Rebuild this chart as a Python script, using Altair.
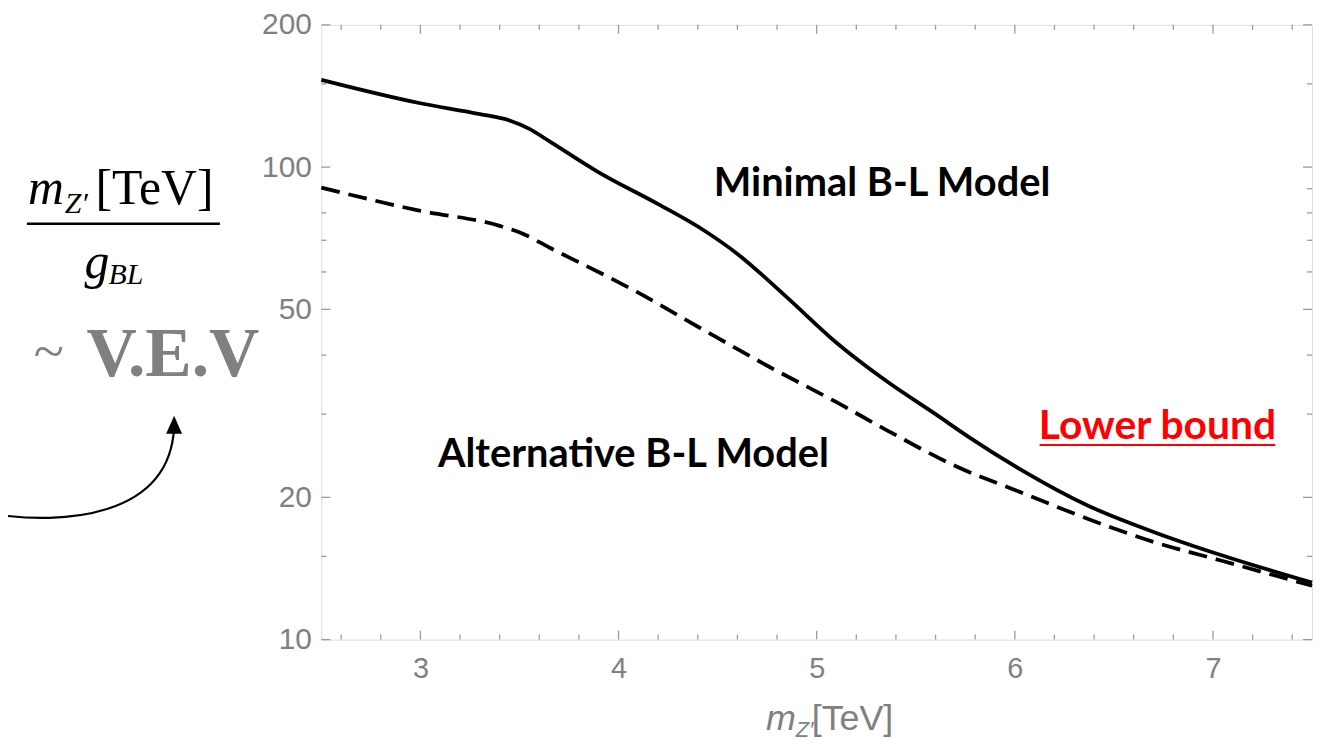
import altair as alt
import pandas as pd

# ---- data ----
x_minimal = [2.5, 3.0, 3.3, 3.45, 3.55, 3.65, 3.9, 4.2, 4.43, 4.6, 4.85, 5.1, 5.35, 5.6, 5.77,
             6.03, 6.37, 6.7, 7.04, 7.5]
y_minimal = [153, 136.5, 129.5, 125.5, 120.5, 113.5, 97.5, 83.5, 73.5, 65.5, 53, 42.5, 35.3, 30.0, 26.8,
             22.9, 19.2, 16.9, 15.1, 13.2]

x_alternative = [2.5, 3.0, 3.4, 3.52, 3.65, 3.95, 4.09, 4.43, 4.76, 5.1, 5.35, 5.7, 6.03, 6.37,
                 6.7, 7.04, 7.5]
y_alternative = [90.5, 80.8, 75.1, 72.2, 67.6, 58.5, 54.5, 45.2, 37.8, 31.8, 27.8, 23.3, 20.5,
                 18.0, 16.1, 14.7, 13.0]

x_major = [3, 4, 5, 6, 7]
x_minor = [2.6, 2.8, 3.2, 3.4, 3.6, 3.8, 4.2, 4.4, 4.6, 4.8, 5.2, 5.4, 5.6, 5.8,
           6.2, 6.4, 6.6, 6.8, 7.2, 7.4]
y_major = [10, 20, 50, 100, 200]
y_minor = [15, 30, 40, 60, 70, 80, 90, 150]

ann_text = ["Minimal B-L Model", "Alternative B-L Model", "Lower bound"]
ann_x = [5.33, 4.075, 6.72]
ann_y = [92.1, 24.6, 28.2]
ann_color = ["black", "black", "#ff0000"]
ann_size = [40, 40, 41]

underline_x = [6.125]
underline_x2 = [7.315]
underline_y = [25.8]

W, H = 996, 618
FRAME = "#9a9a9a"
LABEL = "#808080"

xscale = alt.Scale(domain=[2.5, 7.5], nice=False, zero=False)
yscale = alt.Scale(type="log", domain=[10, 200], nice=False)
xaxis = alt.Axis(values=x_major, title=None, ticks=False, domain=False, grid=False,
                 labelFontSize=29, labelColor=LABEL, labelFont="Liberation Sans",
                 labelPadding=15)
yaxis = alt.Axis(values=y_major, title=None, ticks=False, domain=False, grid=False,
                 format="d", labelFontSize=30, labelColor=LABEL, labelFont="Liberation Sans",
                 labelPadding=10)


def X(field):
    return alt.X(field, type="quantitative", scale=xscale, axis=xaxis)


def Y(field):
    return alt.Y(field, type="quantitative", scale=yscale, axis=yaxis)


minimal = alt.Chart(pd.DataFrame({"x": x_minimal, "y": y_minimal})).mark_line(
    color="black", strokeWidth=3.8, interpolate="monotone"
).encode(x=X("x"), y=Y("y"))

alternative = alt.Chart(pd.DataFrame({"x": x_alternative, "y": y_alternative})).mark_line(
    color="black", strokeWidth=3.8, interpolate="monotone", strokeDash=[19, 9]
).encode(x=X("x"), y=Y("y"))

# inward frame ticks
xmaj = pd.DataFrame({"x": x_major})
xmin = pd.DataFrame({"x": x_minor})
ymaj = pd.DataFrame({"y": y_major})
ymin = pd.DataFrame({"y": y_minor})
tick_style = dict(color=FRAME, strokeWidth=1.3)
ticks = [
    alt.Chart(xmaj).mark_rule(**tick_style).encode(x=X("x"), y=alt.value(H), y2=alt.value(H - 9)),
    alt.Chart(xmin).mark_rule(**tick_style).encode(x=X("x"), y=alt.value(H), y2=alt.value(H - 5)),
    alt.Chart(xmaj).mark_rule(**tick_style).encode(x=X("x"), y=alt.value(0), y2=alt.value(9)),
    alt.Chart(xmin).mark_rule(**tick_style).encode(x=X("x"), y=alt.value(0), y2=alt.value(5)),
    alt.Chart(ymaj).mark_rule(**tick_style).encode(y=Y("y"), x=alt.value(0), x2=alt.value(9)),
    alt.Chart(ymin).mark_rule(**tick_style).encode(y=Y("y"), x=alt.value(0), x2=alt.value(5)),
    alt.Chart(ymaj).mark_rule(**tick_style).encode(y=Y("y"), x=alt.value(W), x2=alt.value(W - 9)),
    alt.Chart(ymin).mark_rule(**tick_style).encode(y=Y("y"), x=alt.value(W), x2=alt.value(W - 5)),
]

ann = alt.Chart(pd.DataFrame({"t": ann_text, "x": ann_x, "y": ann_y, "c": ann_color,
                              "s": ann_size})).mark_text(
    font="Lato", fontWeight="bold", align="center", baseline="middle"
).encode(x=X("x"), y=Y("y"), text="t:N", color=alt.Color("c:N", scale=None),
         size=alt.Size("s:Q", scale=None))

underline = alt.Chart(pd.DataFrame({"x": underline_x, "x2": underline_x2, "y": underline_y})).mark_rule(
    color="#ff0000", strokeWidth=2
).encode(x=X("x"), x2="x2:Q", y=Y("y"))


def label(txt, x, y, size, font="Liberation Serif", color="black", style="normal",
          weight="normal", align="left"):
    return alt.Chart(pd.DataFrame({"t": [txt]})).mark_text(
        text=txt, font=font, fontSize=size, fontStyle=style, fontWeight=weight,
        color=color, align=align, baseline="alphabetic"
    ).encode(x=alt.value(x), y=alt.value(y))


# x axis title: m_Z'[TeV]
xtitle = [
    label("m", 447, 709, 36, font="Liberation Sans", color=LABEL, style="italic"),
    label("Z′", 477, 716, 22, font="Liberation Sans", color=LABEL, style="italic"),
    label("[TeV]", 493, 709, 36, font="Liberation Sans", color=LABEL),
]

# left-side formula  m_Z'[TeV] / g_BL  ~ V.E.V
formula = [
    label("m", -295, 180, 50, style="italic"),
    label("Z′", -258, 189, 30, style="italic"),
    label("[TeV]", -227, 180, 50),
    alt.Chart(pd.DataFrame({"t": [0]})).mark_rule(color="black", strokeWidth=2.5).encode(
        x=alt.value(-296), x2=alt.value(-102), y=alt.value(200)),
    label("g", -238, 254, 50, style="italic"),
    label("BL", -214, 261, 30, style="italic"),
    label("~", -289, 347, 56, color=LABEL),
    label("V.E.V", -236, 353, 70, color=LABEL, weight="bold"),
]

arrow = [
    alt.Chart(pd.DataFrame({"t": [0]})).mark_point(
        shape="M -328 492 C -263 502 -153 497 -148 405", size=4, filled=False,
        stroke="black", strokeWidth=2.2, opacity=1
    ).encode(x=alt.value(0), y=alt.value(0)),
    alt.Chart(pd.DataFrame({"t": [0]})).mark_point(
        shape="M -148 393 L -156 411 L -140 411 Z", size=4, filled=True,
        color="black", opacity=1, strokeWidth=0
    ).encode(x=alt.value(0), y=alt.value(0)),
]

chart = alt.layer(
    *ticks, alternative, minimal, ann, underline, *xtitle, *formula, *arrow
).properties(
    width=W, height=H,
    autosize=alt.AutoSizeParams(type="none"),
    padding={"left": 315, "top": 15, "right": 6, "bottom": 102},
).configure_view(
    stroke=FRAME, strokeWidth=1.6
).configure(background="white")

chart.save("out.html", embed_options={"renderer": "svg", "actions": False})
